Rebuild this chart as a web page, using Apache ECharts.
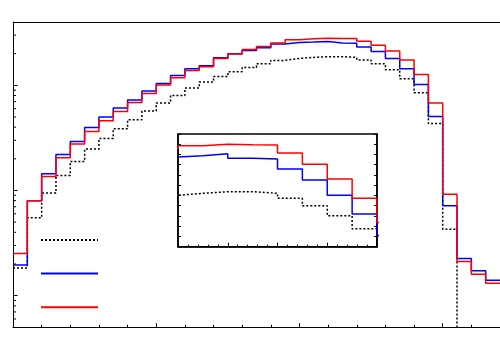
<!DOCTYPE html>
<html>
<head>
<meta charset="utf-8">
<script src="https://cdn.jsdelivr.net/npm/echarts@6.0.0/dist/echarts.min.js"></script>
<style>
  html, body { margin: 0; padding: 0; background: #fff; }
  #main { width: 500px; height: 350px; }
</style>
</head>
<body>
<div id="main"></div>
<script>
// bin contents, one value per bin (bins 0..33)
var dottedVals = [1.83, 5.50, 9.45, 13.9, 18.9, 24.8, 31.2, 38.6, 47.1, 56.9,
  67.9, 80.1, 94.3, 107.5, 121.5, 134.7, 148.1, 160.6, 172.6, 180.3,
  184.2, 187.4, 187.4, 184.2, 174.5, 160.0, 140.5, 115.2, 85, 43.4,
  4.29, 0, 0, 0];
var blueVals = [1.96, 8.0, 14.4, 22.0, 29.3, 39.8, 49.9, 60.8, 72.5, 88.3,
  104.3, 124, 143.9, 153.7, 183, 199.9, 214.8, 227.9, 247.2, 255,
  257.6, 261.5, 252.6, 251.2, 231.7, 210.2, 180.3, 143.8, 102, 50.6,
  7.15, 2.25, 1.72, 1.40];
var redVals = [2.51, 7.98, 13.6, 20.5, 27.6, 36.4, 46.0, 56.5, 68.8, 83.8,
  100.7, 118, 138.6, 150, 180, 198.6, 219.6, 234.5, 252.6, 271.6,
  277.2, 279.9, 279.1, 278.5, 262.9, 240.9, 212.2, 174.5, 127, 67.9,
  9.2, 2.11, 1.60, 1.31];

// axis ranges
var xRange = [0, 34];
var yRange = [0.5, 400];
var insetX = [20, 28];
var insetY = [80, 300];

var chart = echarts.init(document.getElementById('main'));

// histogram -> step points; empty bins sit below the log axis floor
function histPoints(vals, floor) {
  var pts = vals.map(function (v, i) {
    return [i, (floor && v <= 0) ? floor : v];
  });
  pts.push([vals.length, pts[pts.length - 1][1]]);
  return pts;
}

// minor ticks of the log axis (2..9 per decade)
var logMinor = [];
[0.1, 1, 10, 100].forEach(function (d) {
  for (var m = 2; m <= 9; m++) {
    var v = m * d;
    if (v > yRange[0] && v < yRange[1]) logMinor.push([0, v]);
  }
});

var styles = {
  dotted: { color: '#000', width: 1.5, type: [2, 2] },
  blue: { color: '#0000ff', width: 1.5, type: 'solid' },
  red: { color: '#ff0000', width: 1.5, type: 'solid' }
};

function histSeries(name, vals, axis, floor) {
  return {
    name: name,
    type: 'line',
    step: 'end',
    symbol: 'none',
    silent: true,
    animation: false,
    clip: true,
    xAxisIndex: axis,
    yAxisIndex: axis,
    lineStyle: styles[name],
    itemStyle: { color: styles[name].color },
    z: 3 + axis * 10,
    data: histPoints(vals, floor)
  };
}

var noAxisText = { show: false };

var option = {
  backgroundColor: '#fff',
  animation: false,
  legend: {
    data: ['dotted', 'blue', 'red'],
    orient: 'vertical',
    left: 40,
    top: 233,
    padding: 0,
    itemWidth: 57,
    itemHeight: 14,
    itemGap: 21,
    selectedMode: false,
    formatter: function () { return ''; },
    itemStyle: { color: 'rgba(0,0,0,0)', borderColor: 'rgba(0,0,0,0)', borderWidth: 0 },
    textStyle: { fontSize: 10 }
  },
  grid: [
    { left: 13, top: 22, right: 0, height: 305.3 },
    { left: 178, top: 134, width: 199, height: 112.7, show: true,
      borderColor: '#000', borderWidth: 1.5, backgroundColor: '#fff', z: 10 }
  ],
  xAxis: [
    {
      type: 'value', gridIndex: 0, min: xRange[0], max: xRange[1], interval: 10,
      axisLine: { lineStyle: { color: '#000', width: 1 } },
      axisTick: { inside: true, length: 4, lineStyle: { color: '#000' } },
      minorTick: { show: true, splitNumber: 5, length: 2.5, lineStyle: { color: '#000' } },
      axisLabel: noAxisText,
      splitLine: { show: false }
    },
    {
      // top edge of the frame
      type: 'value', gridIndex: 0, position: 'top', min: xRange[0], max: xRange[1],
      axisLine: { show: true, lineStyle: { color: '#000', width: 1 } },
      axisTick: { show: false },
      axisLabel: noAxisText,
      splitLine: { show: false }
    },
    {
      type: 'value', gridIndex: 1, min: insetX[0], max: insetX[1], interval: 2,
      axisLine: { lineStyle: { color: '#000', width: 1.5 } },
      axisTick: { inside: true, length: 4, lineStyle: { color: '#000' } },
      minorTick: { show: true, splitNumber: 5, length: 2, lineStyle: { color: '#000' } },
      axisLabel: noAxisText,
      splitLine: { show: false },
      z: 12
    }
  ],
  yAxis: [
    {
      type: 'log', logBase: 10, gridIndex: 0, min: yRange[0], max: yRange[1],
      axisLine: { show: true, lineStyle: { color: '#000', width: 1 } },
      axisTick: { inside: true, length: 4.5, lineStyle: { color: '#000' } },
      axisLabel: noAxisText,
      splitLine: { show: false }
    },
    {
      type: 'value', gridIndex: 1, min: insetY[0], max: insetY[1], interval: 20,
      axisLine: { show: true, lineStyle: { color: '#000', width: 1.5 } },
      axisTick: { inside: true, length: 3, lineStyle: { color: '#000' } },
      axisLabel: noAxisText,
      splitLine: { show: false },
      z: 12
    },
    {
      type: 'value', gridIndex: 1, position: 'right', min: insetY[0], max: insetY[1], interval: 20,
      axisLine: { show: true, lineStyle: { color: '#000', width: 1.5 } },
      axisTick: { inside: true, length: 3, lineStyle: { color: '#000' } },
      axisLabel: noAxisText,
      splitLine: { show: false },
      z: 12
    }
  ],
  series: [
    histSeries('dotted', dottedVals, 0, 1e-3),
    histSeries('blue', blueVals, 0, 1e-3),
    histSeries('red', redVals, 0, 1e-3),
    Object.assign(histSeries('dotted', dottedVals, 1), { xAxisIndex: 2, yAxisIndex: 1 }),
    Object.assign(histSeries('blue', blueVals, 1), { xAxisIndex: 2, yAxisIndex: 1 }),
    Object.assign(histSeries('red', redVals, 1), { xAxisIndex: 2, yAxisIndex: 1 }),
    {
      type: 'custom',
      xAxisIndex: 0,
      yAxisIndex: 0,
      silent: true,
      data: logMinor,
      renderItem: function (params, api) {
        var p = api.coord([api.value(0), api.value(1)]);
        return {
          type: 'line',
          shape: { x1: p[0], y1: p[1], x2: p[0] + 3, y2: p[1] },
          style: { stroke: '#000', lineWidth: 1 }
        };
      }
    }
  ]
};

chart.setOption(option);
</script>
</body>
</html>
